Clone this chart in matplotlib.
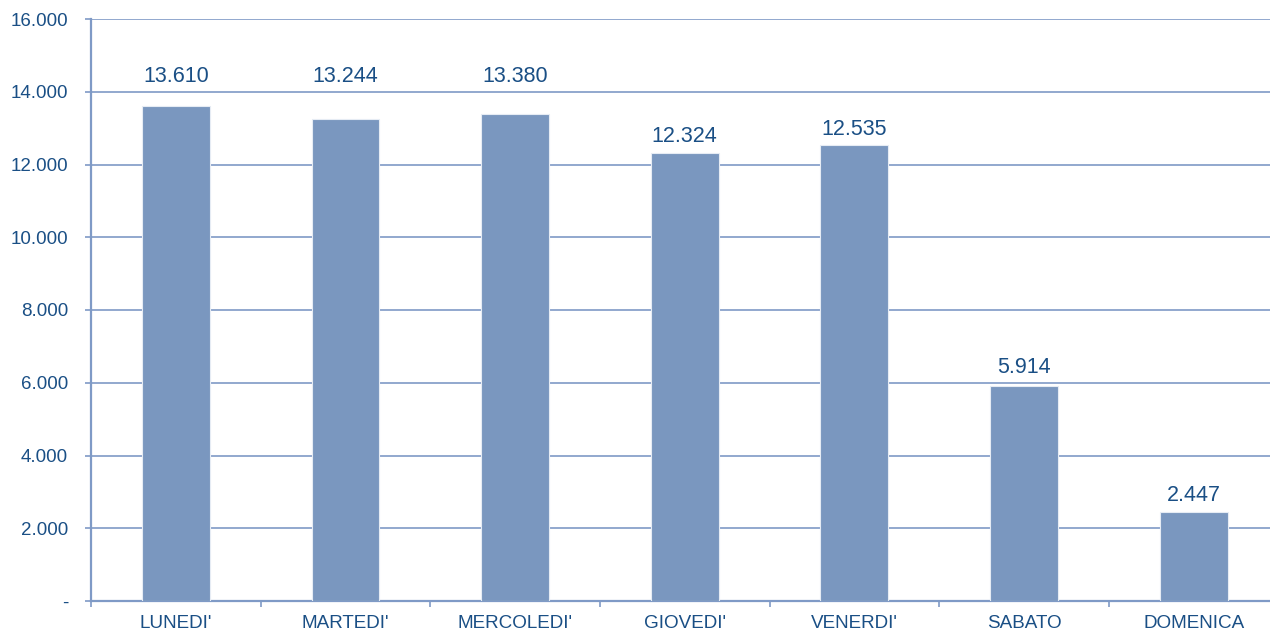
import matplotlib
matplotlib.use('Agg')
import matplotlib.pyplot as plt
from matplotlib.ticker import FuncFormatter

days = ["LUNEDI'", "MARTEDI'", "MERCOLEDI'", "GIOVEDI'", "VENERDI'", "SABATO", "DOMENICA"]
values = [13610, 13244, 13380, 12324, 12535, 5914, 2447]
yticks = [0, 2000, 4000, 6000, 8000, 10000, 12000, 14000, 16000]

barColor = '#7A97BF'
lineColor = '#7F9AC6'
textColor = '#1A4F85'

plt.rcParams['font.family'] = ['Liberation Sans', 'DejaVu Sans']

fig = plt.figure(figsize=(12.7, 6.32), dpi=100)
ax = fig.add_axes([91 / 1270, 31 / 632, 1 - 91 / 1270, (601 - 19) / 632])

x = list(range(len(days)))
ax.bar(x, values, width=0.4, color=barColor, edgecolor='#E6ECF4', linewidth=0.8, zorder=3)

def fmt(v):
    return f'{int(v):,}'.replace(',', '.')

# labels sit above the bar, but get pushed above a gridline they would overlap
for i, v in enumerate(values):
    yc = v + 440
    for g in yticks:
        if abs(yc - g) < 400:
            yc = g + 430
    ax.text(i, yc, fmt(v), ha='center', va='center', fontsize=15.5, color=textColor, zorder=4)

ax.set_ylim(0, 16000)
ax.set_yticks(yticks)
ax.yaxis.set_major_formatter(FuncFormatter(lambda v, p: '-' if v == 0 else fmt(v)))
ax.grid(axis='y', color=lineColor, linewidth=1.2, zorder=0)

ax.set_xticks(x)
ax.set_xticklabels(days)
ax.set_xticks([i - 0.5 for i in range(len(days) + 1)], minor=True)
ax.set_xlim(-0.5, 6.45)
ax.tick_params(axis='x', which='major', length=0, pad=10, labelsize=13.6, labelcolor=textColor)
ax.tick_params(axis='x', which='minor', length=4.5, width=1.2, color=lineColor, direction='out')
ax.tick_params(axis='y', length=4.5, width=1.2, color=lineColor, pad=12, labelsize=13.5, labelcolor=textColor)

for s in ['top', 'right']:
    ax.spines[s].set_visible(False)
for s in ['left', 'bottom']:
    ax.spines[s].set_color(lineColor)
    ax.spines[s].set_linewidth(1.6)

fig.savefig('out.png', dpi=100)
